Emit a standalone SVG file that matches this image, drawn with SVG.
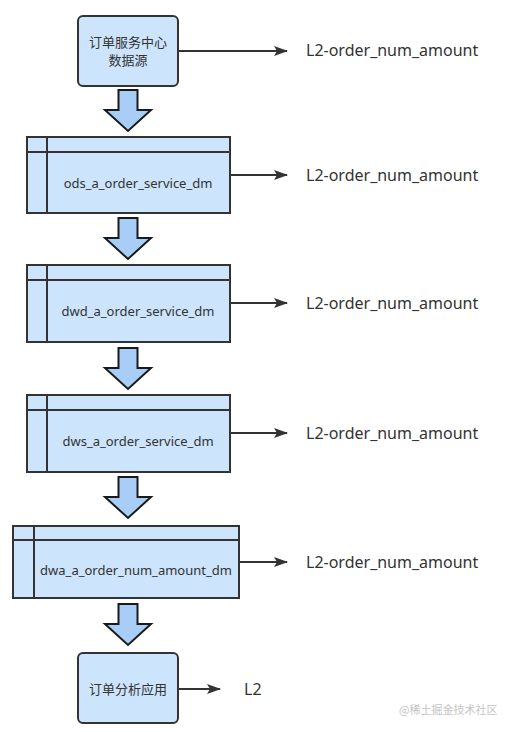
<svg xmlns="http://www.w3.org/2000/svg" width="512" height="732" viewBox="0 0 512 732">
<style>
.box{fill:#cce4fc;stroke:#333;stroke-width:2}
.ln{stroke:#333;stroke-width:2;fill:none}
.blk{fill:#a8cdf6;stroke:#1a1a1a;stroke-width:2;stroke-linejoin:miter}
.t{font-family:"Noto Sans","Noto Sans CJK SC",sans-serif;font-size:13px;fill:#333;text-anchor:middle;dominant-baseline:central}
.lab{font-family:"Noto Sans","Noto Sans CJK SC",sans-serif;font-size:16px;fill:#333;dominant-baseline:central}
.wm{font-family:"Noto Sans CJK SC",sans-serif;font-size:11px;fill:#c4c4c4}
</style>
<defs>
<marker id="ah" markerWidth="14" markerHeight="10" refX="13" refY="5" orient="auto" markerUnits="userSpaceOnUse">
<path d="M0,0 L14,5 L0,10 L3,5 Z" fill="#333"/>
</marker>
<path id="down" d="M-9.5,0 H9.5 V20 H23 L0,41 L-23,20 H-9.5 Z"/>
</defs>

<g id="src">
<rect class="box" x="78" y="16" width="100" height="70" rx="5"/>
<text class="t" x="128" y="42">订单服务中心</text>
<text class="t" x="128" y="60">数据源</text>
</g>

<g id="ods">
<rect class="box" x="27" y="137" width="203" height="76"/>
<line class="ln" x1="47" y1="137" x2="47" y2="213"/>
<line class="ln" x1="27" y1="152" x2="230" y2="152"/>
<text class="t" x="138" y="183">ods_a_order_service_dm</text>
</g>

<g id="dwd">
<rect class="box" x="27" y="265" width="203" height="77"/>
<line class="ln" x1="47" y1="265" x2="47" y2="342"/>
<line class="ln" x1="27" y1="280" x2="230" y2="280"/>
<text class="t" x="138" y="311">dwd_a_order_service_dm</text>
</g>

<g id="dws">
<rect class="box" x="27" y="395" width="203" height="77"/>
<line class="ln" x1="47" y1="395" x2="47" y2="472"/>
<line class="ln" x1="27" y1="410" x2="230" y2="410"/>
<text class="t" x="138" y="441">dws_a_order_service_dm</text>
</g>

<g id="dwa">
<rect class="box" x="13" y="526" width="226" height="72"/>
<line class="ln" x1="34" y1="526" x2="34" y2="598"/>
<line class="ln" x1="13" y1="540" x2="239" y2="540"/>
<text class="t" x="136" y="570">dwa_a_order_num_amount_dm</text>
</g>

<g id="app">
<rect class="box" x="78" y="653" width="100" height="70" rx="5"/>
<text class="t" x="128" y="689">订单分析应用</text>
</g>

<g id="connectors">
<use href="#down" class="blk" x="128" y="90"/>
<use href="#down" class="blk" x="128" y="218"/>
<use href="#down" class="blk" x="128" y="348"/>
<use href="#down" class="blk" x="128" y="477"/>
<use href="#down" class="blk" x="128" y="604"/>
<line class="ln" x1="178" y1="51" x2="287" y2="51" marker-end="url(#ah)"/>
<line class="ln" x1="230" y1="175" x2="287" y2="175" marker-end="url(#ah)"/>
<line class="ln" x1="230" y1="303" x2="287" y2="303" marker-end="url(#ah)"/>
<line class="ln" x1="230" y1="433" x2="287" y2="433" marker-end="url(#ah)"/>
<line class="ln" x1="239" y1="562" x2="287" y2="562" marker-end="url(#ah)"/>
<line class="ln" x1="178" y1="689" x2="220" y2="689" marker-end="url(#ah)"/>
</g>

<g id="labels">
<text class="lab" x="306" y="50">L2-order_num_amount</text>
<text class="lab" x="306" y="175">L2-order_num_amount</text>
<text class="lab" x="306" y="303">L2-order_num_amount</text>
<text class="lab" x="306" y="433">L2-order_num_amount</text>
<text class="lab" x="306" y="562">L2-order_num_amount</text>
<text class="lab" x="244" y="689">L2</text>
</g>

<text class="wm" x="399" y="714">@稀土掘金技术社区</text>
</svg>
